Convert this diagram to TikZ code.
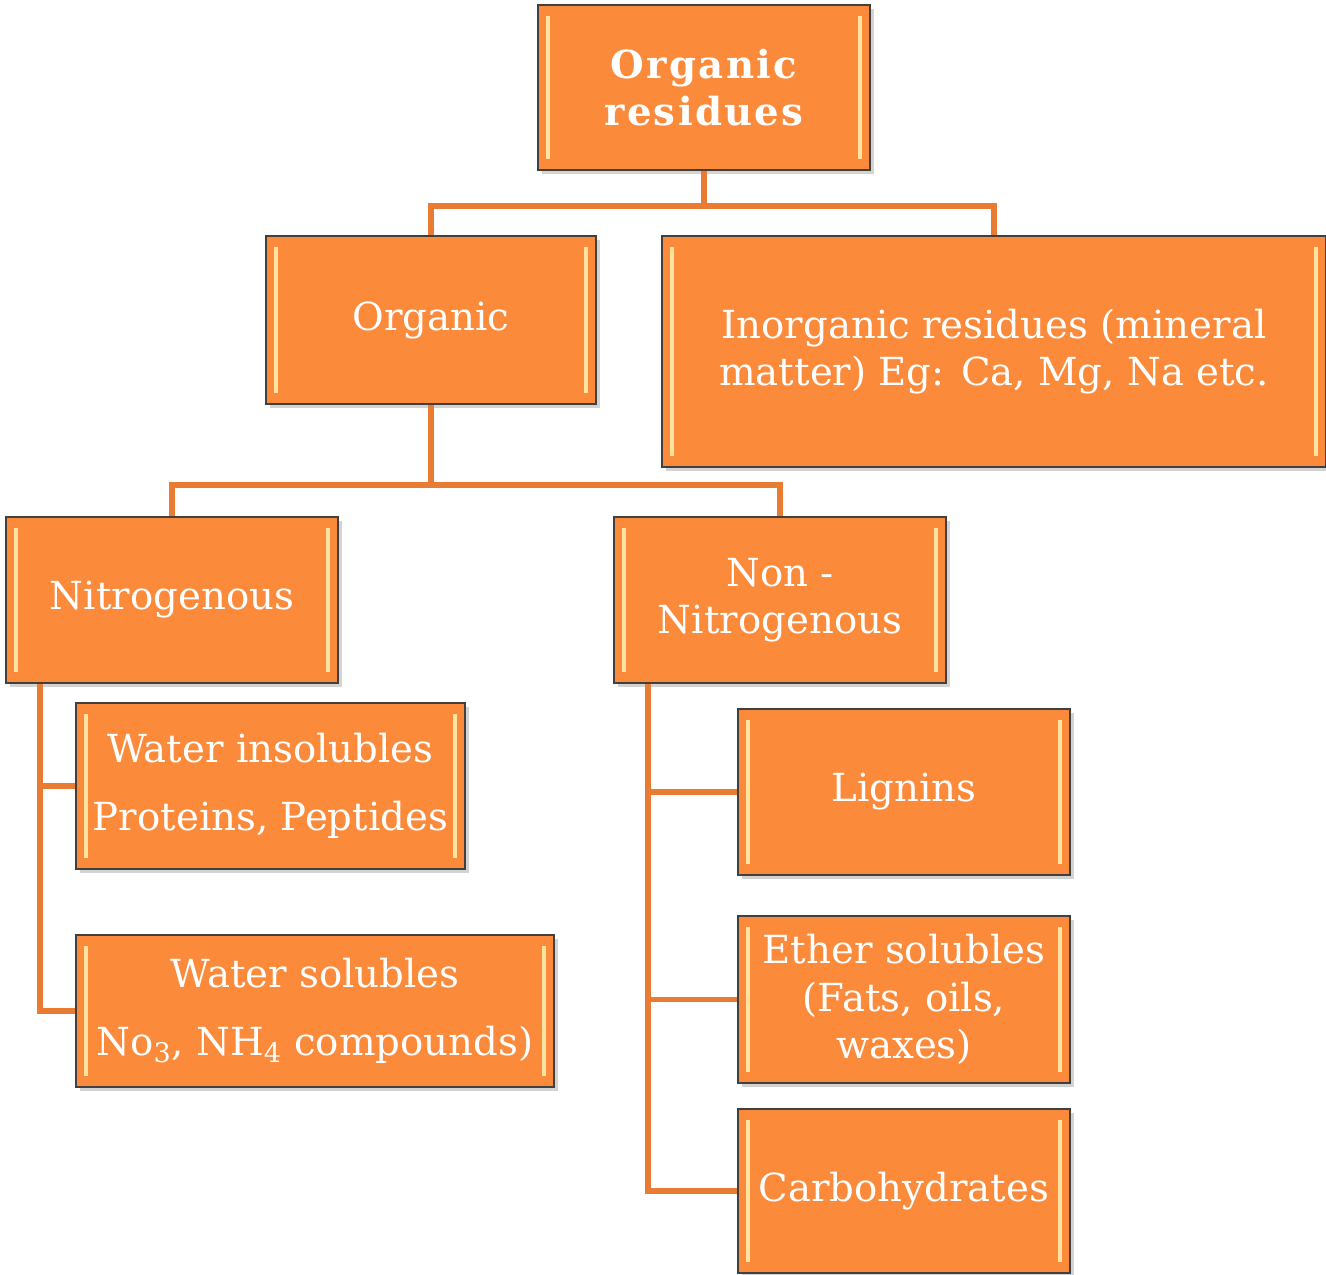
\documentclass[tikz,border=0pt]{standalone}
\usepackage{fontspec}
\setmainfont{DejaVu Serif}
\usepackage{tikz}
\usetikzlibrary{shadows}
\definecolor{boxorange}{HTML}{FB8A3B}
\definecolor{lineorange}{HTML}{E97B32}
\definecolor{boxedge}{HTML}{404040}
\definecolor{hilite}{HTML}{FFE3A0}
\tikzset{
    orgbox/.style={draw=boxedge, line width=0.8pt, fill=boxorange, text=white, align=center,
        inner sep=0pt, font=\fontsize{22}{27}\selectfont,
        drop shadow={opacity=0.35, shadow xshift=2pt, shadow yshift=-2pt},
        path picture={
            \draw[hilite, line width=2.8pt]
                ([xshift=0.2cm, yshift=-0.22cm]path picture bounding box.north west) --
                ([xshift=0.2cm, yshift=0.22cm]path picture bounding box.south west);
            \draw[hilite, line width=2.8pt]
                ([xshift=-0.2cm, yshift=-0.22cm]path picture bounding box.north east) --
                ([xshift=-0.2cm, yshift=0.22cm]path picture bounding box.south east);
        }},
    link/.style={draw=lineorange, line width=3.4pt}
}
\begin{document}
\begin{tikzpicture}
    \useasboundingbox (0,0) rectangle (26.52,-25.5);
    \node[orgbox, minimum width=6.64cm, minimum height=3.3cm] (root) at (14.08,-1.75)
        {\bfseries\addfontfeature{LetterSpace=6}Organic\\\bfseries\addfontfeature{LetterSpace=6}residues};
    \node[orgbox, minimum width=6.6cm, minimum height=3.36cm] (organic) at (8.62,-6.4) {Organic};
    \node[orgbox, minimum width=13.28cm, minimum height=4.62cm] (inorganic) at (19.88,-7.03)
        {Inorganic residues (mineral\\matter) Eg: Ca, Mg, Na etc.};
    \node[orgbox, minimum width=6.64cm, minimum height=3.32cm] (nitro) at (3.44,-12.0) {Nitrogenous};
    \node[orgbox, minimum width=6.64cm, minimum height=3.32cm] (nonnitro) at (15.6,-12.0) {Non -\\Nitrogenous};
    \node[orgbox, minimum width=7.78cm, minimum height=3.32cm] (insol) at (5.41,-15.72)
        {Water insolubles\\[0.4cm]Proteins, Peptides};
    \node[orgbox, minimum width=9.56cm, minimum height=3.04cm] (sol) at (6.3,-20.22)
        {Water solubles\\[0.4cm]No\textsubscript{3}, NH\textsubscript{4} compounds)};
    \node[orgbox, minimum width=6.64cm, minimum height=3.32cm] (lignin) at (18.08,-15.84) {Lignins};
    \node[orgbox, minimum width=6.64cm, minimum height=3.34cm] (ether) at (18.08,-19.99)
        {Ether solubles\\(Fats, oils,\\waxes)};
    \node[orgbox, minimum width=6.64cm, minimum height=3.28cm] (carbo) at (18.08,-23.82) {Carbohydrates};
    \draw[link] (root.south) -- ++(0,-0.7) -| (organic.north);
    \draw[link] (root.south) -- ++(0,-0.7) -| (inorganic.north);
    \draw[link] (organic.south) -- ++(0,-1.6) -| (nitro.north);
    \draw[link] (organic.south) -- ++(0,-1.6) -| (nonnitro.north);
    \draw[link] ([xshift=0.7cm]nitro.south west) |- (insol.west);
    \draw[link] ([xshift=0.7cm]nitro.south west) |- (sol.west);
    \draw[link] ([xshift=0.7cm]nonnitro.south west) |- (lignin.west);
    \draw[link] ([xshift=0.7cm]nonnitro.south west) |- (ether.west);
    \draw[link] ([xshift=0.7cm]nonnitro.south west) |- (carbo.west);
\end{tikzpicture}
\end{document}
